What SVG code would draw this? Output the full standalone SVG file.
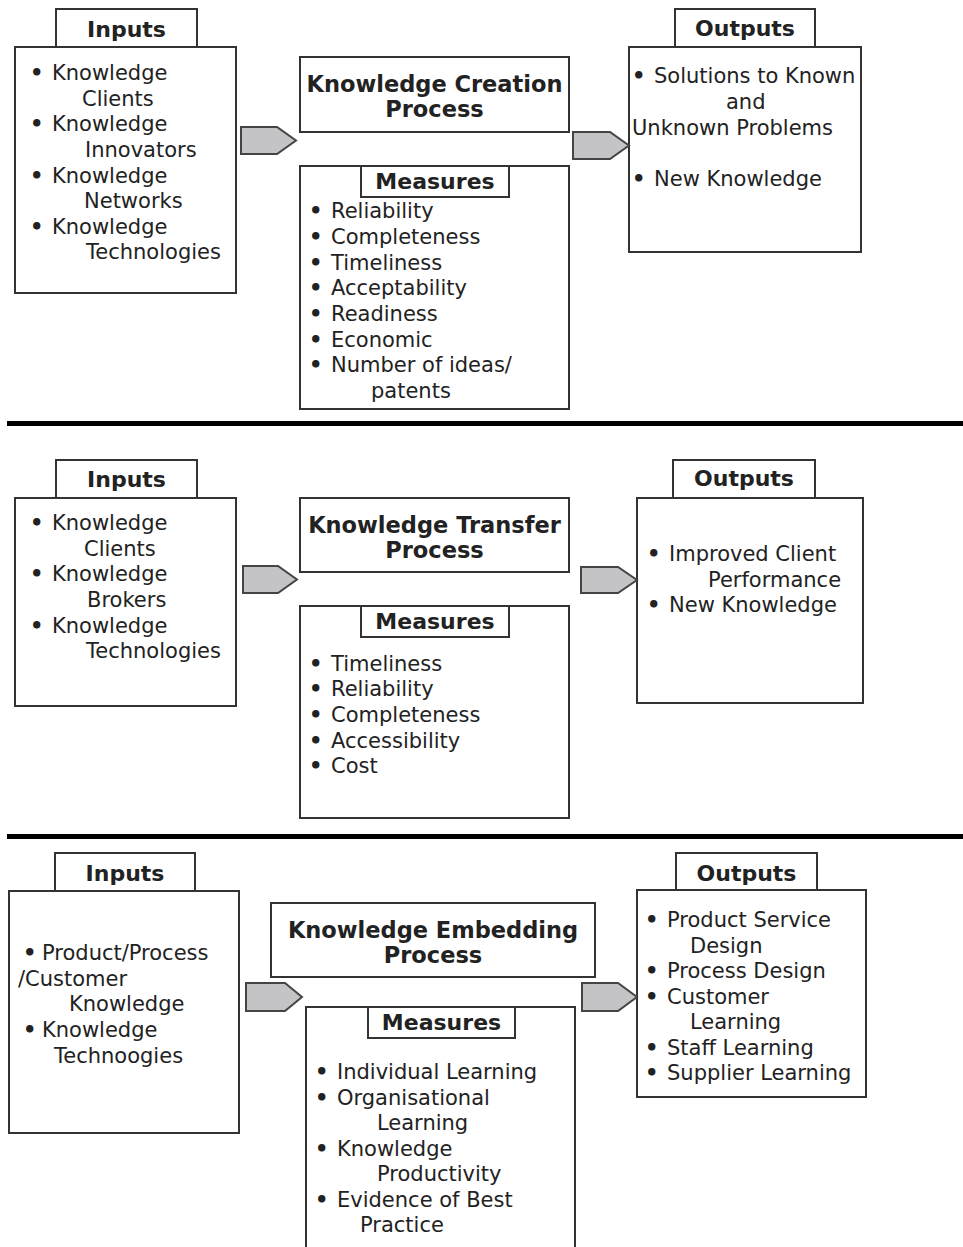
<svg xmlns="http://www.w3.org/2000/svg" width="963" height="1247" viewBox="0 0 963 1247">
<style>
.box{fill:#fff;stroke:#333;stroke-width:2}
.arr{fill:#c4c4c6;stroke:#444;stroke-width:2;stroke-linejoin:miter}
.t{font-family:"DejaVu Sans",sans-serif;font-size:21px;fill:#222}
.t tspan.b{font-weight:bold}
.h{font-family:"DejaVu Sans",sans-serif;font-size:22px;font-weight:bold;fill:#222;text-anchor:middle}
.p{font-family:"DejaVu Sans",sans-serif;font-size:22.5px;font-weight:bold;fill:#222;text-anchor:middle}
.div{fill:#000}
</style>
<rect width="963" height="1247" fill="#fff"/>

<!-- ===== Section 1 ===== -->
<g id="s1-inputs">
<rect class="box" x="15" y="47" width="221" height="246"/>
<rect class="box" x="56" y="9" width="141" height="38"/>
<text class="h" x="126.5" y="37">Inputs</text>
<text class="t"><tspan class="b" x="30" y="80">•</tspan><tspan x="52" y="80">Knowledge</tspan></text>
<text class="t" x="82" y="105.5">Clients</text>
<text class="t"><tspan class="b" x="30" y="131">•</tspan><tspan x="52" y="131">Knowledge</tspan></text>
<text class="t" x="85" y="157">Innovators</text>
<text class="t"><tspan class="b" x="30" y="182.5">•</tspan><tspan x="52" y="182.5">Knowledge</tspan></text>
<text class="t" x="84" y="208">Networks</text>
<text class="t"><tspan class="b" x="30" y="234">•</tspan><tspan x="52" y="234">Knowledge</tspan></text>
<text class="t" x="86" y="259">Technologies</text>
</g>
<g id="s1-process">
<rect class="box" x="300" y="57" width="269" height="75"/>
<text class="p" x="434.5" y="91.5">Knowledge Creation</text>
<text class="p" x="434.5" y="116.5">Process</text>
</g>
<g id="s1-measures">
<rect class="box" x="300" y="166" width="269" height="243"/>
<rect class="box" x="361" y="166" width="148" height="31"/>
<text class="h" x="435" y="189">Measures</text>
<text class="t"><tspan class="b" x="309" y="218">•</tspan><tspan x="331" y="218">Reliability</tspan></text>
<text class="t"><tspan class="b" x="309" y="244">•</tspan><tspan x="331" y="244">Completeness</tspan></text>
<text class="t"><tspan class="b" x="309" y="269.5">•</tspan><tspan x="331" y="269.5">Timeliness</tspan></text>
<text class="t"><tspan class="b" x="309" y="295">•</tspan><tspan x="331" y="295">Acceptability</tspan></text>
<text class="t"><tspan class="b" x="309" y="321">•</tspan><tspan x="331" y="321">Readiness</tspan></text>
<text class="t"><tspan class="b" x="309" y="347">•</tspan><tspan x="331" y="347">Economic</tspan></text>
<text class="t"><tspan class="b" x="309" y="372">•</tspan><tspan x="331" y="372">Number of ideas/</tspan></text>
<text class="t" x="371" y="398">patents</text>
</g>
<g id="s1-outputs">
<rect class="box" x="629" y="47" width="232" height="205"/>
<rect class="box" x="675" y="9" width="140" height="38"/>
<text class="h" x="745" y="36">Outputs</text>
<text class="t"><tspan class="b" x="632" y="83">•</tspan><tspan x="654" y="83">Solutions to Known</tspan></text>
<text class="t" x="726" y="109">and</text>
<text class="t" x="632" y="135">Unknown Problems</text>
<text class="t"><tspan class="b" x="632" y="186">•</tspan><tspan x="654" y="186">New Knowledge</tspan></text>
</g>

<!-- ===== Section 2 ===== -->
<g id="s2-inputs">
<rect class="box" x="15" y="498" width="221" height="208"/>
<rect class="box" x="56" y="460" width="141" height="38"/>
<text class="h" x="126.5" y="487">Inputs</text>
<text class="t"><tspan class="b" x="30" y="530">•</tspan><tspan x="52" y="530">Knowledge</tspan></text>
<text class="t" x="84" y="556">Clients</text>
<text class="t"><tspan class="b" x="30" y="581">•</tspan><tspan x="52" y="581">Knowledge</tspan></text>
<text class="t" x="87" y="607">Brokers</text>
<text class="t"><tspan class="b" x="30" y="632.5">•</tspan><tspan x="52" y="632.5">Knowledge</tspan></text>
<text class="t" x="86" y="658">Technologies</text>
</g>
<g id="s2-process">
<rect class="box" x="300" y="498" width="269" height="74"/>
<text class="p" x="434.5" y="532.5">Knowledge Transfer</text>
<text class="p" x="434.5" y="557.5">Process</text>
</g>
<g id="s2-measures">
<rect class="box" x="300" y="606" width="269" height="212"/>
<rect class="box" x="361" y="606" width="148" height="31"/>
<text class="h" x="435" y="629">Measures</text>
<text class="t"><tspan class="b" x="309" y="670.5">•</tspan><tspan x="331" y="670.5">Timeliness</tspan></text>
<text class="t"><tspan class="b" x="309" y="696">•</tspan><tspan x="331" y="696">Reliability</tspan></text>
<text class="t"><tspan class="b" x="309" y="722">•</tspan><tspan x="331" y="722">Completeness</tspan></text>
<text class="t"><tspan class="b" x="309" y="747.5">•</tspan><tspan x="331" y="747.5">Accessibility</tspan></text>
<text class="t"><tspan class="b" x="309" y="773">•</tspan><tspan x="331" y="773">Cost</tspan></text>
</g>
<g id="s2-outputs">
<rect class="box" x="637" y="498" width="226" height="205"/>
<rect class="box" x="673" y="460" width="142" height="38"/>
<text class="h" x="744" y="486">Outputs</text>
<text class="t"><tspan class="b" x="647" y="561">•</tspan><tspan x="669" y="561">Improved Client</tspan></text>
<text class="t" x="708" y="587">Performance</text>
<text class="t"><tspan class="b" x="647" y="612">•</tspan><tspan x="669" y="612">New Knowledge</tspan></text>
</g>

<!-- ===== Section 3 ===== -->
<g id="s3-inputs">
<rect class="box" x="9" y="891" width="230" height="242"/>
<rect class="box" x="55" y="853" width="140" height="38"/>
<text class="h" x="125" y="881">Inputs</text>
<text class="t"><tspan class="b" x="23" y="960">•</tspan><tspan x="42" y="960">Product/Process</tspan></text>
<text class="t" x="18" y="985.5">/Customer</text>
<text class="t" x="69" y="1011">Knowledge</text>
<text class="t"><tspan class="b" x="23" y="1037">•</tspan><tspan x="42" y="1037">Knowledge</tspan></text>
<text class="t" x="54" y="1062.5">Technoogies</text>
</g>
<g id="s3-process">
<rect class="box" x="271" y="903" width="324" height="74"/>
<text class="p" x="433" y="937.5">Knowledge Embedding</text>
<text class="p" x="433" y="962.5">Process</text>
</g>
<g id="s3-measures">
<rect class="box" x="306" y="1007" width="269" height="260"/>
<rect class="box" x="368" y="1007" width="147" height="31"/>
<text class="h" x="441.5" y="1030">Measures</text>
<text class="t"><tspan class="b" x="315" y="1079">•</tspan><tspan x="337" y="1079">Individual Learning</tspan></text>
<text class="t"><tspan class="b" x="315" y="1104.5">•</tspan><tspan x="337" y="1104.5">Organisational</tspan></text>
<text class="t" x="377" y="1130">Learning</text>
<text class="t"><tspan class="b" x="315" y="1155.5">•</tspan><tspan x="337" y="1155.5">Knowledge</tspan></text>
<text class="t" x="377" y="1181">Productivity</text>
<text class="t"><tspan class="b" x="315" y="1206.5">•</tspan><tspan x="337" y="1206.5">Evidence of Best</tspan></text>
<text class="t" x="360" y="1232">Practice</text>
</g>
<g id="s3-outputs">
<rect class="box" x="637" y="890" width="229" height="207"/>
<rect class="box" x="676" y="853" width="141" height="37"/>
<text class="h" x="746.5" y="881">Outputs</text>
<text class="t"><tspan class="b" x="645" y="927">•</tspan><tspan x="667" y="927">Product Service</tspan></text>
<text class="t" x="690" y="952.5">Design</text>
<text class="t"><tspan class="b" x="645" y="978">•</tspan><tspan x="667" y="978">Process Design</tspan></text>
<text class="t"><tspan class="b" x="645" y="1003.5">•</tspan><tspan x="667" y="1003.5">Customer</tspan></text>
<text class="t" x="690" y="1029">Learning</text>
<text class="t"><tspan class="b" x="645" y="1054.5">•</tspan><tspan x="667" y="1054.5">Staff Learning</tspan></text>
<text class="t"><tspan class="b" x="645" y="1080">•</tspan><tspan x="667" y="1080">Supplier Learning</tspan></text>
</g>

<!-- ===== Connectors ===== -->
<g id="connectors">
<polygon class="arr" points="241,127 277,127 296,140.5 277,154 241,154"/>
<polygon class="arr" points="573,132 610,132 629,145.5 610,159 573,159"/>
<polygon class="arr" points="243,566 278,566 297,579.5 278,593 243,593"/>
<polygon class="arr" points="581,567 618,567 637,580 618,593 581,593"/>
<polygon class="arr" points="246,983 285,983 302,997 285,1011 246,1011"/>
<polygon class="arr" points="582,983 618,983 637,997 618,1011 582,1011"/>
</g>

<!-- ===== Dividers ===== -->
<g id="dividers">
<rect class="div" x="7" y="421" width="956" height="5"/>
<rect class="div" x="7" y="834" width="956" height="5"/>
</g>
</svg>
